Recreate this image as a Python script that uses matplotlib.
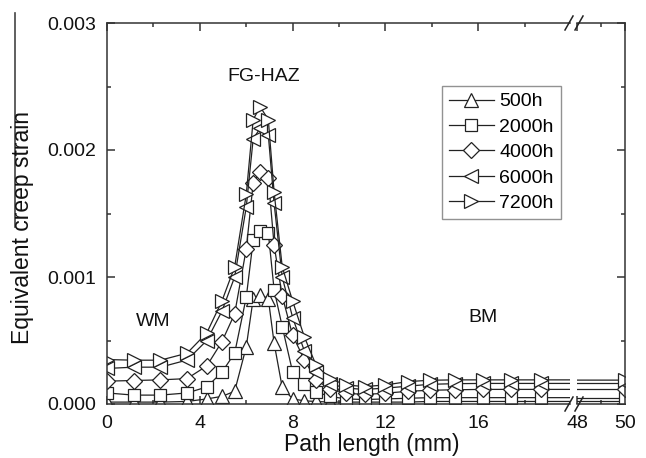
import matplotlib
matplotlib.use("Agg")
import matplotlib.pyplot as plt
from matplotlib.lines import Line2D
from matplotlib.ticker import MultipleLocator, FormatStrFormatter

plt.rcParams['font.family'] = ['Liberation Sans', 'DejaVu Sans']

# ---- data ----
x_mm = [0, 1.15, 2.3, 3.45, 4.3, 4.95, 5.5, 6.0, 6.3, 6.6, 6.95, 7.2, 7.55, 8.0, 8.5,
        9.0, 9.6, 10.3, 11.1, 12.0, 12.95, 13.9, 15.0, 16.2, 17.4, 18.7, 50]
s500 = [1.5e-5, 1.5e-5, 1.5e-5, 2e-5, 4e-5, 6e-5, 1.0e-4, 4.5e-4, 8.3e-4, 8.6e-4, 8.3e-4,
        4.8e-4, 1.3e-4, 4e-5, 2.5e-5, 2e-5, 1.5e-5, 1.5e-5, 1.5e-5, 1.5e-5, 1.5e-5, 2e-5,
        2e-5, 2e-5, 2e-5, 2e-5, 2e-5]
s2000 = [8.7e-5, 7e-5, 7e-5, 8.7e-5, 1.34e-4, 2.5e-4, 4.0e-4, 8.4e-4, 1.29e-3, 1.36e-3,
         1.35e-3, 9.0e-4, 6.1e-4, 2.5e-4, 1.6e-4, 9.5e-5, 6e-5, 4e-5, 3.5e-5, 4e-5, 4.5e-5,
         5e-5, 5e-5, 5e-5, 5e-5, 5e-5, 5e-5]
s4000 = [1.8e-4, 1.85e-4, 1.9e-4, 2.0e-4, 3.0e-4, 4.9e-4, 7.1e-4, 1.22e-3, 1.74e-3, 1.83e-3,
         1.78e-3, 1.25e-3, 8.5e-4, 5.4e-4, 3.5e-4, 1.9e-4, 1.2e-4, 8.5e-5, 7.5e-5, 8.5e-5,
         1.0e-4, 1.08e-4, 1.12e-4, 1.15e-4, 1.15e-4, 1.15e-4, 1.15e-4]
s6000 = [2.8e-4, 2.9e-4, 2.9e-4, 3.46e-4, 5.0e-4, 7.3e-4, 1.0e-3, 1.55e-3, 2.09e-3, 2.17e-3,
         2.12e-3, 1.58e-3, 1.0e-3, 6.8e-4, 4.2e-4, 2.5e-4, 1.6e-4, 1.25e-4, 1.15e-4, 1.25e-4,
         1.4e-4, 1.55e-4, 1.6e-4, 1.62e-4, 1.62e-4, 1.62e-4, 1.62e-4]
s7200 = [3.5e-4, 3.45e-4, 3.45e-4, 4.0e-4, 5.6e-4, 8.1e-4, 1.08e-3, 1.65e-3, 2.24e-3, 2.34e-3,
         2.24e-3, 1.67e-3, 1.08e-3, 8.1e-4, 5.3e-4, 3.1e-4, 2.0e-4, 1.5e-4, 1.37e-4, 1.5e-4,
         1.76e-4, 1.87e-4, 1.9e-4, 1.9e-4, 1.9e-4, 1.9e-4, 1.88e-4]
series_labels = ["500h", "2000h", "4000h", "6000h", "7200h"]
series_values = [s500, s2000, s4000, s6000, s7200]
series_markers = ["^", "s", "D", "<", ">"]
series_msize = [10, 8.5, 8.5, 10, 10]

W, H = 646, 458
fig = plt.figure(figsize=(W / 100, H / 100), dpi=100)

def fx(px):
    return px / W

def fy(py):
    return 1 - py / H

L, R1, L2, R = 107, 570, 577, 625
T, B = 23, 404
ax1 = fig.add_axes([fx(L), fy(B), fx(R1 - L), (B - T) / H])
ax2 = fig.add_axes([fx(L2), fy(B), fx(R - L2), (B - T) / H])

col = '#222222'
for ax in (ax1, ax2):
    for lab, vals, m, ms in zip(series_labels, series_values, series_markers, series_msize):
        ax.plot(x_mm, vals, marker=m, ms=ms, mfc='white', mec=col, mew=0.9,
                color=col, lw=0.9, label=lab)
    ax.set_ylim(0, 0.003)
    for sp in ax.spines.values():
        sp.set_color('#333333')
        sp.set_linewidth(1.1)
    ax.tick_params(which='both', direction='in', top=True, colors='#333333',
                   labelsize=14, labelcolor='#111111', pad=8)
    ax.tick_params(which='major', length=6, width=1.1)
    ax.tick_params(which='minor', length=3, width=1.1)

ax1.set_xlim(0, 19.95)
ax1.xaxis.set_major_locator(MultipleLocator(4))
ax1.xaxis.set_minor_locator(MultipleLocator(2))
ax1.yaxis.set_major_locator(MultipleLocator(0.001))
ax1.yaxis.set_minor_locator(MultipleLocator(0.0005))
ax1.yaxis.set_major_formatter(FormatStrFormatter('%.3f'))
ax1.spines['right'].set_visible(False)
ax1.tick_params(which='both', right=False)

ax2.set_xlim(48, 50)
ax2.xaxis.set_major_locator(MultipleLocator(2))
ax2.xaxis.set_minor_locator(MultipleLocator(1))
ax2.yaxis.set_major_locator(MultipleLocator(0.001))
ax2.yaxis.set_minor_locator(MultipleLocator(0.0005))
ax2.spines['left'].set_visible(False)
ax2.tick_params(which='both', left=False, right=True, labelleft=False)

# region labels
ax1.text(6.76, 0.00258, "FG-HAZ", fontsize=14, ha='center', va='center', color='#111111')
ax1.text(1.97, 0.000646, "WM", fontsize=14, ha='center', va='center', color='#111111')
ax1.text(16.2, 0.000685, "BM", fontsize=14, ha='center', va='center', color='#111111')

# axis labels
fig.text(fx(372), fy(444), "Path length (mm)", fontsize=16.5, ha='center', va='center',
         color='#111111')
fig.text(fx(23), fy(228), "Equivalent creep strain", fontsize=16.5, rotation=90,
         ha='center', va='center', color='#111111')
fig.add_artist(Line2D([fx(15), fx(15)], [fy(13), fy(227)], transform=fig.transFigure,
                      color='#444444', lw=1.2))

# break marks
for yc in (B, T):
    for x0 in (565, 575):
        fig.add_artist(Line2D([fx(x0), fx(x0 + 8)], [fy(yc + 7), fy(yc - 7)],
                              transform=fig.transFigure, color='#222222', lw=1.1))

leg = ax1.legend(loc='upper left', bbox_to_anchor=(fx(442), fy(86)),
                 bbox_transform=fig.transFigure, borderaxespad=0, fontsize=14,
                 frameon=True, fancybox=False, edgecolor='#777777', handlelength=2.3,
                 handletextpad=0.3, labelspacing=0.4, borderpad=0.35)
leg.get_frame().set_linewidth(1.0)

fig.savefig("out.png", dpi=100)
